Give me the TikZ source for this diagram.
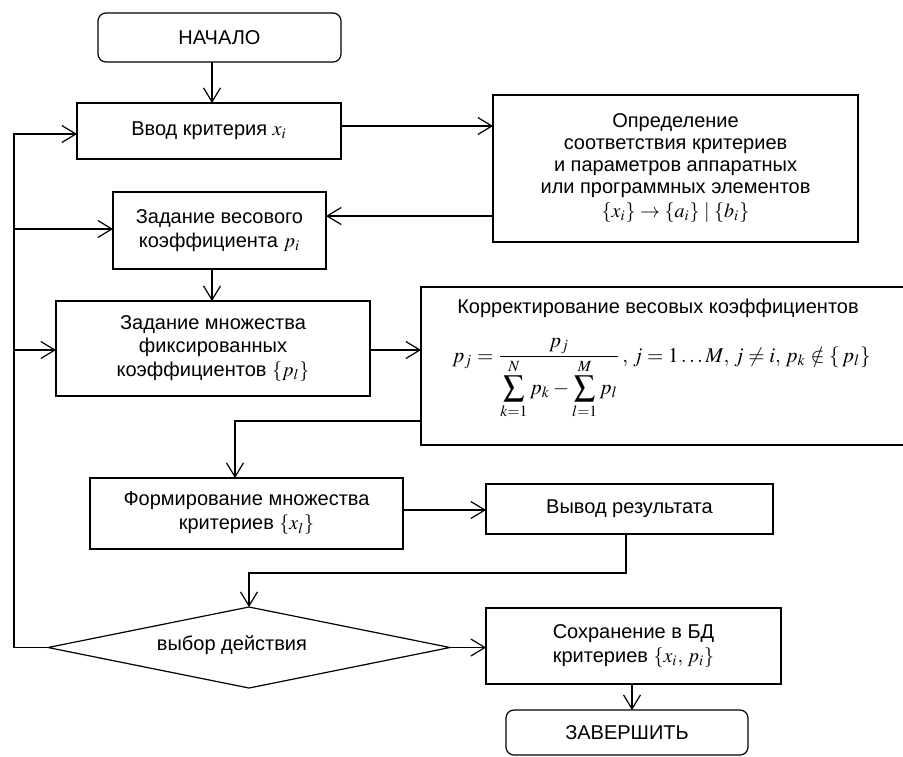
\documentclass[tikz,border=0pt]{standalone}
\usepackage{mathptmx}
\usepackage[no-math]{fontspec}
\setmainfont{Liberation Sans}
\usetikzlibrary{arrows.meta,calc}
\begin{document}
\begin{tikzpicture}[x=0.5pt,y=-0.5pt,
  every node/.style={font=\fontsize{10}{12}\selectfont, inner sep=0pt, outer sep=0pt},
  box/.style={draw, line width=0.6pt, rectangle, align=center},
  term/.style={box, rounded corners=4pt},
  arr/.style={line width=0.6pt, -{Straight Barb[length=7pt,width=8.5pt,line width=0.6pt]}},
  ln/.style={line width=0.6pt}]
\path[use as bounding box, clip] (0,0) rectangle (903,756);

\node[term, minimum width=121.5pt, minimum height=24.5pt] (start) at (219.5,37.5) {НАЧАЛО};
\node[box, minimum width=132pt, minimum height=28pt] (vvod) at (209,131) {Ввод критерия $x_i$};
\node[box, minimum width=182.5pt, minimum height=73.5pt, font=\fontsize{10}{11}\selectfont] (opr) at (675.5,168.5)
  {Определение\\соответствия критериев\\и параметров аппаратных\\или программных элементов\\[1pt]$\{x_i\}\to\{a_i\}\mid\{b_i\}$};
\node[box, minimum width=106.5pt, minimum height=38.5pt] (zadves) at (219.5,230.5) {Задание весового\\коэффициента $p_i$};
\node[box, minimum width=157pt, minimum height=47.5pt, font=\fontsize{10}{11.75}\selectfont] (zadmn) at (213,348.5)
  {Задание множества\\фиксированных\\коэффициентов $\{p_l\}$};
\node[box, minimum width=244.5pt, minimum height=79pt] (corr) at (665.5,366) {};
\node (corrt) at (658,308) {Корректирование весовых коэффициентов};
\node[anchor=base, font=\fontsize{10.5}{12}\selectfont] (corrf) at (661.5,362)
  {$\displaystyle p_j=\frac{p_j}{\displaystyle\sum_{k=1}^{N}p_k-\sum_{l=1}^{M}p_l}\,,\,j=1\ldots M,\,j\neq i,\,p_k\notin\{\,p_l\}$};
\node[box, minimum width=156.5pt, minimum height=35.5pt] (form) at (246.5,513.5) {Формирование множества\\критериев $\{x_l\}$};
\node[box, minimum width=143.5pt, minimum height=25pt] (vyvod) at (629.5,509) {Вывод результата};
\node[minimum width=201pt, minimum height=40.5pt] (dia) at (249,647.5) {};
\draw[ln] (dia.west) -- (dia.north) -- (dia.east) -- (dia.south) -- cycle;
\node (diat) at (232,645) {выбор действия};
\node[box, minimum width=147.5pt, minimum height=38pt] (soh) at (633.5,646) {Сохранение в БД\\критериев $\{x_i,\,p_i\}$};
\node[term, minimum width=121pt, minimum height=22.5pt] (zav) at (627,732.5) {ЗАВЕРШИТЬ};

% connectors
\draw[arr] (212,0 |- start.south) -- (212,0 |- vvod.north);
\draw[arr] (vvod.east |- 0,126) -- (opr.west |- 0,126);
\draw[arr] (opr.west |- 0,216) -- (zadves.east |- 0,216);
\draw[arr] (212,0 |- zadves.south) -- (212,0 |- zadmn.north);
\draw[arr] (zadmn.east |- 0,350) -- (corr.west |- 0,350);
\draw[arr] (corr.west |- 0,421) -- (235,421) -- (235,0 |- form.north);
\draw[arr] (form.east |- 0,510) -- (vyvod.west |- 0,510);
\draw[arr] (626,0 |- vyvod.south) -- (626,573) -- (249,573) -- (dia.north);
\draw[arr] (dia.east) -- (soh.west |- dia.east);
\draw[arr] (632,0 |- soh.south) -- (632,0 |- zav.north);
\draw[arr] (dia.west) -- (14,0 |- dia.west) -- (14,134) -- (vvod.west |- 0,134);
\draw[arr] (14,229) -- (zadves.west |- 0,229);
\draw[arr] (14,350) -- (zadmn.west |- 0,350);
\end{tikzpicture}
\end{document}
